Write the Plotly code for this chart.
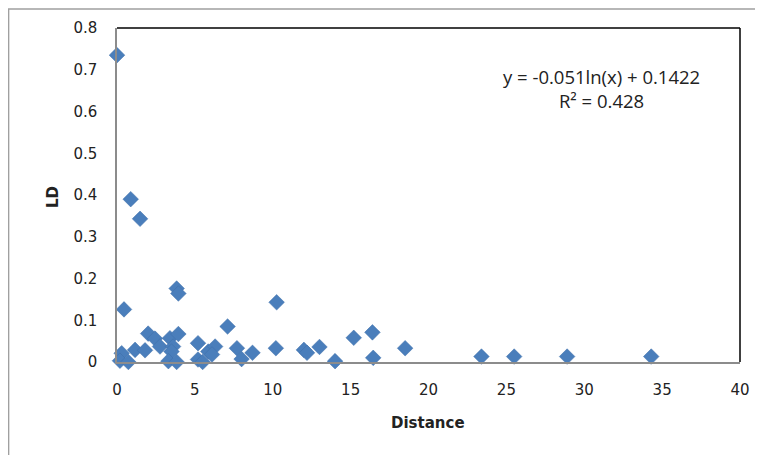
import plotly.graph_objects as go

distance = [0, 0.88, 1.48, 0.45, 3.83, 3.94, 10.25, 7.1, 2.0, 2.44, 2.76, 3.4, 3.94, 3.6, 3.5,
            1.16, 1.8, 0.3, 0.19, 0.73, 3.3, 3.83, 5.2, 5.2, 5.86, 6.3, 6.1, 5.5, 7.7, 8.0,
            8.7, 10.2, 12.0, 12.2, 13.0, 14.0, 15.2, 16.4, 16.45, 18.5, 23.4, 25.5, 28.9, 34.3]
ld = [0.735, 0.39, 0.343, 0.126, 0.176, 0.164, 0.143, 0.085, 0.068, 0.056, 0.037, 0.057, 0.067, 0.037, 0.025,
      0.029, 0.028, 0.021, 0.003, 0.0, 0.002, 0.0, 0.045, 0.006, 0.025, 0.037, 0.018, 0.0, 0.033, 0.007,
      0.022, 0.033, 0.029, 0.022, 0.036, 0.002, 0.058, 0.071, 0.01, 0.033, 0.013, 0.013, 0.013, 0.013]

y_ticks = [0, 0.1, 0.2, 0.3, 0.4, 0.5, 0.6, 0.7, 0.8]
y_labels = ["0", "0.1", "0.2", "0.3", "0.4", "0.5", "0.6", "0.7", "0.8"]
x_ticks = [0, 5, 10, 15, 20, 25, 30, 35, 40]

eq_text = "y = -0.051ln(x) + 0.1422<br>R² = 0.428"

fig = go.Figure()
fig.add_trace(go.Scatter(
    x=distance, y=ld, mode="markers", cliponaxis=False,
    marker=dict(symbol="diamond", size=12, color="#4a7ebb",
                line=dict(width=0.5, color="#3f6fa8")),
    showlegend=False,
))

font = "DejaVu Sans"
fig.update_layout(
    width=755, height=447,
    margin=dict(l=109, r=23, t=20, b=93),
    paper_bgcolor="white", plot_bgcolor="white",
    xaxis=dict(range=[0, 40], tickvals=x_ticks, showgrid=False, zeroline=False,
               showline=True, linecolor="#8c8c8c", linewidth=1.5, ticks="",
               ticklabelstandoff=13,
               tickfont=dict(family=font, size=15, color="#222")),
    yaxis=dict(range=[0, 0.8], tickvals=y_ticks, ticktext=y_labels, showgrid=False, zeroline=False,
               showline=True, linecolor="#8c8c8c", linewidth=1.5, ticks="",
               ticklabelstandoff=15,
               tickfont=dict(family=font, size=15, color="#222")),
    shapes=[
        dict(type="line", xref="paper", yref="paper", x0=0, x1=1, y0=1, y1=1,
             line=dict(color="black", width=1.5)),
        dict(type="line", xref="paper", yref="paper", x0=1, x1=1, y0=0, y1=1,
             line=dict(color="black", width=1.5)),
        dict(type="rect", xref="paper", yref="paper", x0=-0.174, x1=1.2, y0=-0.4, y1=1.057,
             line=dict(color="#a0a0a0", width=1.5)),
    ],
    annotations=[
        dict(text=eq_text, xref="x", yref="y", x=31.1, y=0.654, showarrow=False,
             xanchor="center", yanchor="middle",
             align="center", font=dict(family="Open Sans", size=18.5, color="#222")),
        dict(text="<b>Distance</b>", xref="paper", yref="paper", x=0.4995, y=-0.183,
             xanchor="center", yanchor="middle",
             showarrow=False, font=dict(family=font, size=15, color="#222")),
        dict(text="<b>LD</b>", xref="paper", yref="paper", x=-0.1027, y=0.494, textangle=-90,
             xanchor="center", yanchor="middle",
             showarrow=False, font=dict(family=font, size=15, color="#222")),
    ],
)

fig.write_html("out.html")
